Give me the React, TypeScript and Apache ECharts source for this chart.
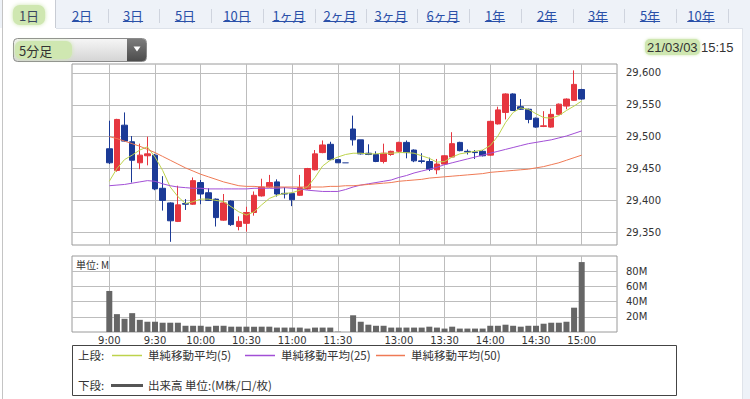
import { useEffect, useRef } from 'react';
import * as echarts from 'echarts';

// ---------- data ----------
const categories: string[] = [
  '9:00', '9:05', '9:10', '9:15', '9:20', '9:25', '9:30', '9:35', '9:40', '9:45', '9:50', '9:55',
  '10:00', '10:05', '10:10', '10:15', '10:20', '10:25', '10:30', '10:35', '10:40', '10:45', '10:50', '10:55',
  '11:00', '11:05', '11:10', '11:15', '11:20', '11:25', '11:30',
  '',
  '12:30', '12:35', '12:40', '12:45', '12:50', '12:55',
  '13:00', '13:05', '13:10', '13:15', '13:20', '13:25', '13:30', '13:35', '13:40', '13:45', '13:50', '13:55',
  '14:00', '14:05', '14:10', '14:15', '14:20', '14:25', '14:30', '14:35', '14:40', '14:45', '14:50', '14:55',
  '15:00',
];

const timeLabels: string[] = ['9:00', '9:30', '10:00', '10:30', '11:00', '11:30', '13:00', '13:30', '14:00', '14:30', '15:00'];

// [open, close, low, high]
const ohlc: number[][] = [
  [29481, 29459, 29457, 29525], [29447, 29527, 29445, 29528], [29518, 29493, 29492, 29538], [29492, 29463, 29428, 29501],
  [29459, 29471, 29449, 29489], [29470, 29473, 29455, 29500], [29471, 29418, 29416, 29473], [29419, 29400, 29384, 29438],
  [29396, 29368, 29335, 29397], [29367, 29393, 29366, 29423], [29395, 29394, 29385, 29402], [29394, 29431, 29393, 29436],
  [29428, 29410, 29394, 29432], [29412, 29400, 29399, 29419], [29402, 29373, 29359, 29403], [29369, 29396, 29368, 29410],
  [29399, 29362, 29360, 29400], [29359, 29367, 29353, 29375], [29364, 29381, 29351, 29390], [29381, 29408, 29376, 29414],
  [29407, 29421, 29406, 29434], [29421, 29428, 29420, 29440], [29429, 29410, 29406, 29433], [29411, 29410, 29403, 29421],
  [29411, 29401, 29391, 29412], [29408, 29420, 29407, 29440], [29418, 29450, 29417, 29451], [29448, 29473, 29447, 29479],
  [29475, 29487, 29474, 29494], [29488, 29464, 29463, 29492], [29464, 29459, 29459, 29465], [29459, 29459, 29459, 29459],
  [29512, 29495, 29486, 29533], [29495, 29473, 29472, 29495], [29474, 29472, 29471, 29488], [29472, 29461, 29460, 29477],
  [29461, 29474, 29458, 29489], [29472, 29477, 29470, 29478], [29477, 29491, 29475, 29492], [29491, 29475, 29466, 29494],
  [29479, 29462, 29460, 29480], [29462, 29461, 29458, 29474], [29461, 29449, 29446, 29467], [29448, 29457, 29441, 29465],
  [29457, 29470, 29456, 29471], [29468, 29489, 29467, 29507], [29491, 29478, 29477, 29492], [29477, 29476, 29472, 29480],
  [29476, 29475, 29465, 29479], [29477, 29470, 29469, 29479], [29471, 29524, 29470, 29525], [29520, 29542, 29519, 29547],
  [29538, 29567, 29527, 29568], [29567, 29541, 29541, 29568], [29547, 29543, 29542, 29559], [29543, 29527, 29521, 29544],
  [29529, 29515, 29514, 29530], [29516, 29517, 29515, 29540], [29515, 29535, 29514, 29544], [29535, 29551, 29534, 29552],
  [29548, 29559, 29543, 29560], [29557, 29582, 29556, 29604], [29574, 29559, 29558, 29575],
];

const ma5: number[] = [
  29430, 29450, 29464, 29471, 29479, 29484, 29468, 29447, 29421, 29406, 29395, 29398, 29402, 29402, 29400, 29398,
  29390, 29382, 29377, 29382, 29393, 29403, 29408, 29411, 29412, 29416, 29421, 29436, 29454, 29463, 29468, 29472,
  29474, 29474, 29473, 29473, 29474, 29474, 29475, 29475, 29474, 29470, 29466, 29460, 29461, 29468, 29473, 29475,
  29477, 29479, 29486, 29501, 29522, 29538, 29545, 29543, 29536, 29530, 29529, 29533, 29541, 29548, 29556,
];

const ma25: number[] = [
  29423, 29424, 29425, 29427, 29429, 29431, 29430, 29426, 29423, 29421, 29420, 29419, 29419, 29418, 29418, 29418,
  29418, 29418, 29418, 29419, 29419, 29419, 29419, 29420, 29419, 29418, 29416, 29415, 29414, 29414, 29414, 29417,
  29421, 29424, 29426, 29428, 29430, 29432, 29436, 29439, 29443, 29446, 29449, 29452, 29456, 29459, 29462, 29465,
  29468, 29471, 29474, 29477, 29480, 29483, 29486, 29489, 29491, 29493, 29495, 29498, 29501, 29505, 29509,
];

const ma50: number[] = [
  29500, 29497, 29493, 29489, 29485, 29480, 29475, 29469, 29463, 29457, 29451, 29446, 29441, 29437, 29433, 29429,
  29426, 29423, 29422, 29422, 29421, 29421, 29421, 29421, 29421, 29421, 29421, 29421, 29421, 29422, 29422, 29423,
  29423, 29424, 29425, 29426, 29427, 29428, 29430, 29431, 29432, 29433, 29435, 29436, 29437, 29438, 29439, 29440,
  29441, 29442, 29444, 29445, 29446, 29447, 29448, 29449, 29451, 29453, 29456, 29459, 29463, 29467, 29471,
];

// volume in millions (M)
const volume: (number | null)[] = [
  54, 23.5, 17.4, 24.8, 16, 13.5, 13.5, 12.2, 12.2, 12.2, 8.2, 8.2, 8.2, 7, 8.2, 8.2,
  7, 7, 7, 7, 7, 7, 5.8, 5.8, 5.8, 5.8, 4.5, 5.8, 5.8, 5.8, 0.4, null,
  22, 13.5, 9.6, 8.2, 8.2, 5.8, 5.8, 5.8, 5.8, 5.8, 7, 5.8, 4.5, 7, 4.5, 4.5,
  4.5, 4.5, 8.2, 8.2, 9.6, 8.2, 7, 8.2, 8.2, 10.9, 12.2, 12.2, 13.5, 32, 92,
];

const priceTicks = { min: 29350, max: 29600, step: 50 };
const priceRange = { min: 29330, max: 29614 };
const volumeTicks = { min: 0, max: 100, step: 20 };

const tabLabels: string[] = ['1日', '2日', '3日', '5日', '10日', '1ヶ月', '2ヶ月', '3ヶ月', '6ヶ月', '1年', '2年', '3年', '5年', '10年'];
const legendNames = { ma5: '単純移動平均(5)', ma25: '単純移動平均(25)', ma50: '単純移動平均(50)', vol: '出来高 単位:(M株/口/枚)' };

// ---------- layout / style ----------
const TAB_CENTERS = [29, 82, 133, 185, 237, 289, 340, 391, 443, 495, 547, 598, 650, 701];
const UP = '#e6363f';
const DOWN = '#1b3a96';
const C_MA5 = '#bdd34c';
const C_MA25 = '#a24fd6';
const C_MA50 = '#ef7a55';
const FRAME = '#9a9a9a';
const GRIDC = '#bdbdbd';
const LINK = '#2a50a8';
const HL = '#cfe7b1';
const LATIN = "'DejaVu Sans', 'Noto Sans CJK JP', sans-serif";
const CJK = "'Noto Sans CJK JP', 'DejaVu Sans', sans-serif";

const FR_L = 72, FR_W = 545;
const P_T = 64, P_H = 181;
const V_T = 256, V_H = 76;
const D_L = 109.3, D_W = 472.4;

const labelIdx = timeLabels.map((t) => categories.indexOf(t));
const fmtComma = (v: number) => String(v).replace(/\B(?=(\d{3})+(?!\d))/g, ',');
const textW = (s: string, size: number) =>
  [...s].reduce((w, ch) => w + (/[0-9]/.test(ch) ? size * 0.56 : size), 0);

function buildGraphics(): any[] {
  const g: any[] = [];
  g.push({ type: 'rect', shape: { x: 0, y: 0, width: 750, height: 28 }, style: { fill: '#eef2f8' } });
  g.push({ type: 'rect', shape: { x: 743, y: 28, width: 7, height: 371 }, style: { fill: '#eef2f8' } });
  g.push({ type: 'line', shape: { x1: 56, y1: 28.5, x2: 743, y2: 28.5 }, style: { stroke: '#dde2ea', lineWidth: 1 } });
  g.push({ type: 'line', shape: { x1: 2.5, y1: 0, x2: 2.5, y2: 399 }, style: { stroke: '#c4c4c4', lineWidth: 1 } });
  g.push({ type: 'rect', shape: { x: 3, y: 0, width: 52, height: 29 }, style: { fill: '#ffffff' } });
  g.push({ type: 'line', shape: { x1: 55.5, y1: 0, x2: 55.5, y2: 28 }, style: { stroke: '#c8ccd4', lineWidth: 1 } });
  g.push({ type: 'line', shape: { x1: 742.5, y1: 28, x2: 742.5, y2: 399 }, style: { stroke: '#dfe3ea', lineWidth: 1 } });

  tabLabels.forEach((t, i) => {
    const cx = TAB_CENTERS[i];
    const w = textW(t, 13);
    if (i === 0) {
      g.push({ type: 'rect', shape: { x: cx - w / 2 - 6, y: 5, width: w + 12, height: 20, r: 7 },
        style: { fill: HL, shadowBlur: 4, shadowColor: HL } });
      g.push({ type: 'text', style: { text: t, x: cx, y: 15, align: 'center', verticalAlign: 'middle', font: `13px ${CJK}`, fill: '#3a4660' } });
    } else {
      g.push({ type: 'text', style: { text: t, x: cx, y: 15, align: 'center', verticalAlign: 'middle', font: `13px ${CJK}`, fill: LINK } });
      g.push({ type: 'line', shape: { x1: cx - w / 2, y1: 21.5, x2: cx + w / 2, y2: 21.5 }, style: { stroke: LINK, lineWidth: 1 } });
    }
    if (i >= 1) {
      const sx = i < tabLabels.length - 1 ? (TAB_CENTERS[i] + TAB_CENTERS[i + 1]) / 2 : cx + 27;
      g.push({ type: 'line', shape: { x1: Math.round(sx) + 0.5, y1: 9, x2: Math.round(sx) + 0.5, y2: 23 }, style: { stroke: '#cfd4de', lineWidth: 1 } });
    }
  });

  // dropdown
  g.push({ type: 'rect', shape: { x: 13.5, y: 38.5, width: 133, height: 23, r: 4 },
    style: { fill: new echarts.graphic.LinearGradient(0, 0, 0, 1, [{ offset: 0, color: '#f6f6f6' }, { offset: 1, color: '#d4d4d4' }]), stroke: '#8a8a8a', lineWidth: 1 } });
  g.push({ type: 'rect', shape: { x: 127, y: 39, width: 19, height: 22, r: [0, 3.5, 3.5, 0] },
    style: { fill: new echarts.graphic.LinearGradient(0, 0, 0, 1, [{ offset: 0, color: '#7c7c7c' }, { offset: 1, color: '#4c4c4c' }]) } });
  g.push({ type: 'polygon', shape: { points: [[133.5, 46.5], [140.5, 46.5], [137, 51.5]] }, style: { fill: '#ffffff' } });
  g.push({ type: 'rect', shape: { x: 15, y: 41, width: 57, height: 18, r: 6 }, style: { fill: HL, shadowBlur: 4, shadowColor: HL } });
  g.push({ type: 'text', style: { text: '5分足', x: 19, y: 50, verticalAlign: 'middle', font: `13px ${CJK}`, fill: '#333' } });

  // date
  g.push({ type: 'rect', shape: { x: 645, y: 39, width: 55, height: 16, r: 5 }, style: { fill: HL, shadowBlur: 3, shadowColor: HL } });
  g.push({ type: 'text', style: { text: '21/03/03', x: 647, y: 47, verticalAlign: 'middle', font: "13px 'Liberation Sans', sans-serif", fill: '#333' } });
  g.push({ type: 'text', style: { text: '15:15', x: 701, y: 47, verticalAlign: 'middle', font: "13px 'Liberation Sans', sans-serif", fill: '#333' } });

  // volume unit
  g.push({ type: 'text', style: { text: '単位: M', x: 76, y: 264, verticalAlign: 'middle', font: `10px ${CJK}`, fill: '#333' }, z: 10 });

  // legend box
  g.push({ type: 'rect', shape: { x: 72.5, y: 345.5, width: 604, height: 50 }, style: { fill: 'none', stroke: '#444', lineWidth: 1 } });
  const r1 = 355, r2 = 385;
  const lt = (text: string, x: number, y: number) =>
    ({ type: 'text', style: { text, x, y, verticalAlign: 'middle', font: `11.5px ${CJK}`, fill: '#333' } });
  const ll = (x1: number, x2: number, y: number, color: string, w: number) =>
    ({ type: 'line', shape: { x1, y1: y + 0.5, x2, y2: y + 0.5 }, style: { stroke: color, lineWidth: w } });
  g.push(lt('上段:', 78, r1));
  g.push(ll(112, 142, r1, C_MA5, 1.5));
  g.push(lt(legendNames.ma5, 148, r1));
  g.push(ll(245, 275, r1, C_MA25, 1.5));
  g.push(lt(legendNames.ma25, 281, r1));
  g.push(ll(376, 405, r1, C_MA50, 1.5));
  g.push(lt(legendNames.ma50, 411, r1));
  g.push(lt('下段:', 78, r2));
  g.push(ll(111, 143, r2, '#555', 3));
  g.push(lt(legendNames.vol, 148, r2));
  return g;
}

function buildOption(): any {
  const pxPerPrice = P_H / (priceRange.max - priceRange.min);
  const gTop = P_T + (priceRange.max - priceTicks.max) * pxPerPrice;
  const gH = (priceTicks.max - priceTicks.min) * pxPerPrice;
  const vSplit = { show: true, interval: (i: number) => labelIdx.includes(i), lineStyle: { color: GRIDC, width: 1 } };
  const hidden = (gridIndex: number) => ({ gridIndex, type: 'value', show: false, min: 0, max: 1 });

  return {
    animation: false,
    backgroundColor: 'transparent',
    textStyle: { fontFamily: LATIN },
    grid: [
      { left: FR_L, top: P_T, width: FR_W, height: P_H, show: true, borderColor: FRAME, borderWidth: 1, backgroundColor: '#fff', outerBoundsMode: 'none' },
      { left: D_L, top: P_T, width: D_W, height: P_H, outerBoundsMode: 'none' },
      { left: FR_L, top: gTop, width: FR_W, height: gH, outerBoundsMode: 'none' },
      { left: FR_L, top: V_T, width: FR_W, height: V_H, show: true, borderColor: FRAME, borderWidth: 1, backgroundColor: '#fff', outerBoundsMode: 'none' },
      { left: D_L, top: V_T, width: D_W, height: V_H, outerBoundsMode: 'none' },
    ],
    xAxis: [
      hidden(0),
      { gridIndex: 1, type: 'category', data: categories, boundaryGap: false, axisLine: { show: false }, axisTick: { show: false }, axisLabel: { show: false }, splitLine: vSplit },
      hidden(2),
      hidden(3),
      {
        gridIndex: 4, type: 'category', data: categories, boundaryGap: false, axisLine: { show: false }, axisTick: { show: false },
        axisLabel: { show: true, interval: (i: number) => labelIdx.includes(i), margin: 3, fontSize: 10, color: '#333', fontFamily: LATIN },
        splitLine: vSplit,
      },
    ],
    yAxis: [
      hidden(0),
      { gridIndex: 1, type: 'value', show: false, min: priceRange.min, max: priceRange.max, splitLine: { show: false } },
      {
        gridIndex: 2, type: 'value', position: 'right', min: priceTicks.min, max: priceTicks.max, interval: priceTicks.step,
        axisLine: { show: false }, axisTick: { show: true, length: 5, inside: false, lineStyle: { color: GRIDC } },
        axisLabel: { margin: 9, fontSize: 10, color: '#333', fontFamily: LATIN, formatter: (v: number) => fmtComma(v) },
        splitLine: { show: true, lineStyle: { color: GRIDC, width: 1 } },
      },
      {
        gridIndex: 3, type: 'value', position: 'right', min: volumeTicks.min, max: volumeTicks.max, interval: volumeTicks.step,
        axisLine: { show: false }, axisTick: { show: false },
        axisLabel: { margin: 9, fontSize: 10, color: '#333', fontFamily: LATIN, formatter: (v: number) => (v === volumeTicks.min || v === volumeTicks.max ? '' : `${v}M`) },
        splitLine: { show: true, showMinLine: false, showMaxLine: false, lineStyle: { color: GRIDC, width: 1 } },
      },
      { gridIndex: 4, type: 'value', show: false, min: volumeTicks.min, max: volumeTicks.max, splitLine: { show: false } },
    ],
    series: [
      {
        type: 'candlestick', name: '株価', xAxisIndex: 1, yAxisIndex: 1, data: ohlc, barWidth: 6, clip: false, z: 3,
        itemStyle: { color: UP, color0: DOWN, borderColor: UP, borderColor0: DOWN, borderColorDoji: '#5a6fb0', borderWidth: 1 },
      },
      { type: 'line', name: legendNames.ma5, xAxisIndex: 1, yAxisIndex: 1, data: ma5, showSymbol: false, symbol: 'none', z: 4, lineStyle: { color: C_MA5, width: 1 } },
      { type: 'line', name: legendNames.ma25, xAxisIndex: 1, yAxisIndex: 1, data: ma25, showSymbol: false, symbol: 'none', z: 4, lineStyle: { color: C_MA25, width: 1 } },
      { type: 'line', name: legendNames.ma50, xAxisIndex: 1, yAxisIndex: 1, data: ma50, showSymbol: false, symbol: 'none', z: 4, lineStyle: { color: C_MA50, width: 1 } },
      { type: 'bar', name: '出来高', xAxisIndex: 4, yAxisIndex: 4, data: volume, barWidth: 6, clip: false, z: 3, itemStyle: { color: '#666' } },
    ],
    graphic: { elements: buildGraphics() },
  };
}

export default function App() {
  const ref = useRef<HTMLDivElement>(null);
  useEffect(() => {
    if (!ref.current) return;
    const chart = echarts.init(ref.current, null, { renderer: 'svg', width: 750, height: 399 });
    chart.setOption(buildOption());
    return () => chart.dispose();
  }, []);
  return <div ref={ref} style={{ position: 'fixed', left: 0, top: 0, width: 750, height: 399, background: '#fff' }} />;
}
